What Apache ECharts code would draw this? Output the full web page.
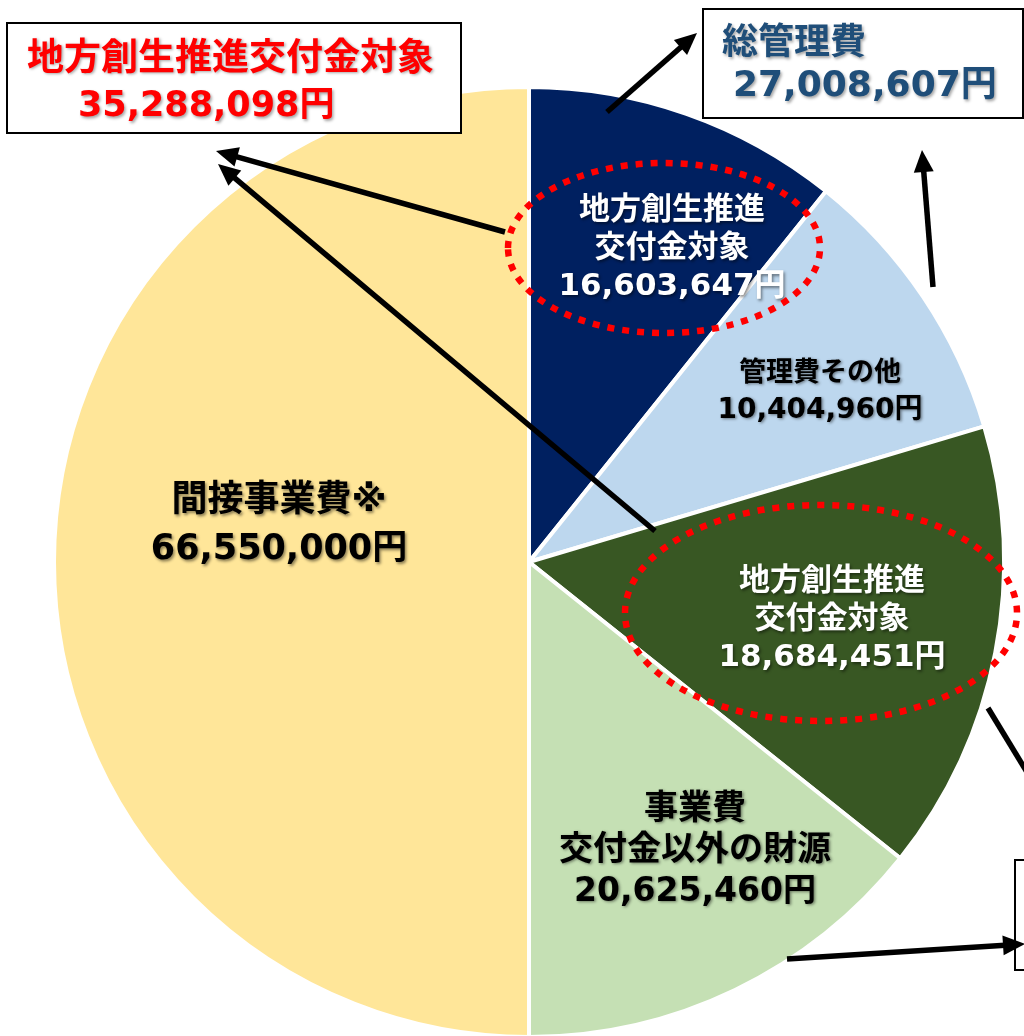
<!DOCTYPE html>
<html>
<head>
<meta charset="utf-8">
<script src="https://cdn.jsdelivr.net/npm/echarts@6/dist/echarts.min.js"></script>
<style>
html,body{margin:0;padding:0;background:#fff;}
#main{width:1024px;height:1036px;}
</style>
</head>
<body>
<div id="main"></div>
<script>
// ---- data ----
// slice titles (multi-line) clockwise from 12 o'clock
const sliceTitles = ['地方創生推進\n交付金対象', '管理費その他', '地方創生推進\n交付金対象', '事業費\n交付金以外の財源', '間接事業費※'];
// printed amounts (円)
const sliceAmounts = [16603647, 10404960, 18684451, 20625460, 66550000];
// slice sizes as drawn in the picture (% of circle; the drawing is not strictly proportional to the printed amounts)
const drawnShare = [10.75, 9.64, 15.33, 14.28, 50.0];
const sliceColors = ['#002060', '#BDD7EE', '#385723', '#C5E0B4', '#FFE699'];
// callout boxes
const calloutTitles = ['地方創生推進交付金対象', '総管理費'];
const calloutAmounts = [35288098, 27008607];

const FONT = "'DejaVu Sans','Noto Sans CJK JP',sans-serif";
const fmt = v => v.toLocaleString('en-US') + '円';

// label styling per slice
const labelStyle = [
  {color: '#fff', k: 31, n: 31, lh: 38, pos: [672, 249]},
  {color: '#000', k: 27, n: 28, lh: 37, pos: [820, 392]},
  {color: '#fff', k: 31, n: 31, lh: 38, pos: [832, 620]},
  {color: '#000', k: 34, n: 33, lh: 41, pos: [695, 851]},
  {color: '#000', k: 36, n: 35, lh: 48, pos: [279, 526]}
];

const shadow = {textShadowColor: 'rgba(0,0,0,0.45)', textShadowBlur: 3, textShadowOffsetX: 1.5, textShadowOffsetY: 1.5};

const seriesData = drawnShare.map((v, i) => {
  const st = labelStyle[i];
  const lines = sliceTitles[i].split('\n').map(s => '{k|' + s + '}');
  lines.push('{n|' + fmt(sliceAmounts[i]) + '}');
  return {
    value: v,
    name: sliceTitles[i],
    itemStyle: {color: sliceColors[i]},
    label: {
      formatter: lines.join('\n'),
      rich: {
        k: Object.assign({fontFamily: FONT, fontWeight: 'bold', fontSize: st.k, lineHeight: st.lh, color: st.color, align: 'center'}, shadow),
        n: Object.assign({fontFamily: FONT, fontWeight: 'bold', fontSize: st.n, lineHeight: st.lh, color: st.color, align: 'center'}, shadow)
      }
    }
  };
});

// ---- annotation helpers ----
function arrow(x1, y1, x2, y2) {
  const a = Math.atan2(y2 - y1, x2 - x1);
  const L = 22, W = 10;
  const bx = x2 - L * Math.cos(a), by = y2 - L * Math.sin(a);
  const px = -Math.sin(a), py = Math.cos(a);
  return [
    {type: 'line', z: 100, shape: {x1: x1, y1: y1, x2: bx + 2 * Math.cos(a), y2: by + 2 * Math.sin(a)}, style: {stroke: '#000', lineWidth: 5.5}},
    {type: 'polygon', z: 100, shape: {points: [[x2, y2], [bx + px * W, by + py * W], [bx - px * W, by - py * W]]}, style: {fill: '#000'}}
  ];
}
function ellipse(cx, cy, rx, ry) {
  return {type: 'ellipse', z: 100, shape: {cx: cx, cy: cy, rx: rx, ry: ry},
    style: {fill: 'none', stroke: '#FF0000', lineWidth: 6.5, lineDash: [7, 8]}};
}
function txt(x, y, text, size, color) {
  return {type: 'text', z: 110, x: x, y: y,
    style: {text: text, font: 'bold ' + size + 'px ' + FONT, fill: color, textAlign: 'left', textVerticalAlign: 'middle', verticalAlign: 'middle',
      textShadowColor: 'rgba(0,0,0,0.35)', textShadowBlur: 3, textShadowOffsetX: 1.5, textShadowOffsetY: 1.5}};
}

const graphics = [].concat(
  // callout boxes
  [{type: 'rect', z: 90, shape: {x: 7, y: 23, width: 454, height: 110}, style: {fill: '#fff', stroke: '#000', lineWidth: 2}}],
  [{type: 'rect', z: 90, shape: {x: 703, y: 9, width: 320, height: 109}, style: {fill: '#fff', stroke: '#000', lineWidth: 2}}],
  [{type: 'rect', z: 90, shape: {x: 1015, y: 860, width: 60, height: 110}, style: {fill: '#fff', stroke: '#000', lineWidth: 2}}],
  [txt(27, 60, calloutTitles[0], 37, '#FF0000'), txt(78, 107, fmt(calloutAmounts[0]), 35, '#FF0000')],
  [txt(722, 45, calloutTitles[1], 36, '#1F4E79'), txt(733, 87, fmt(calloutAmounts[1]), 36, '#1F4E79')],
  // dotted ellipses
  [ellipse(664, 248, 156, 85), ellipse(821, 613, 196, 108)],
  // arrows
  arrow(607, 112, 697, 33),
  arrow(933, 287, 922, 150),
  arrow(505, 232, 216, 151),
  arrow(655, 531, 218, 164),
  arrow(988, 708, 1050, 810),
  arrow(787, 959, 1025, 944)
);

const chart = echarts.init(document.getElementById('main'), null, {renderer: 'canvas'});
chart.setOption({
  animation: false,
  backgroundColor: '#fff',
  series: [{
    type: 'pie',
    center: [529, 562],
    radius: 475,
    startAngle: 90,
    clockwise: true,
    avoidLabelOverlap: false,
    silent: true,
    itemStyle: {borderColor: '#fff', borderWidth: 4},
    label: {show: true, position: 'inside'},
    labelLine: {show: false},
    labelLayout: function (p) {
      const st = labelStyle[p.dataIndex];
      return {x: st.pos[0], y: st.pos[1], align: 'center', verticalAlign: 'middle'};
    },
    emphasis: {disabled: true},
    data: seriesData
  }],
  graphic: graphics
});
</script>
</body>
</html>
